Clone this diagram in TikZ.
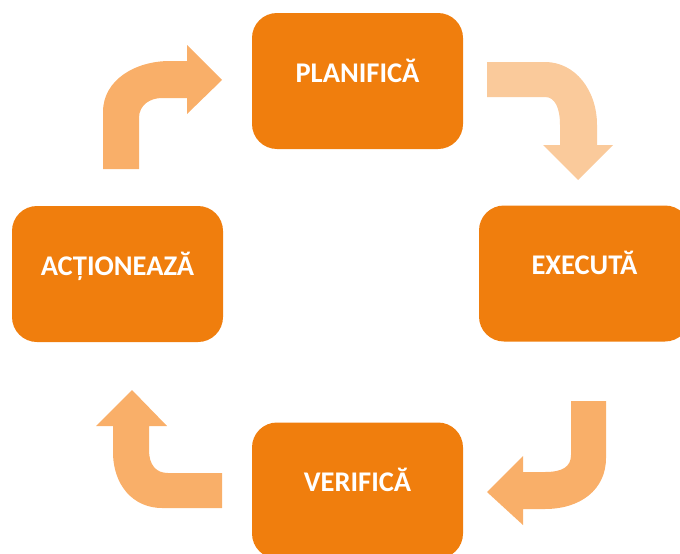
\documentclass[tikz,border=0pt]{standalone}
\usepackage{fontspec}
\setmainfont{Carlito}
\definecolor{boxorange}{HTML}{F07E0D}
\definecolor{arroworange}{HTML}{F9AF69}
\definecolor{arrowlight}{HTML}{FACA9B}
\tikzset{
	stagebox/.style={rounded corners=25pt,fill=boxorange,minimum width=211pt,minimum height=136pt,
		text=white,font=\fontsize{28.5}{34}\selectfont\bfseries,text height=18pt,text depth=16pt,inner sep=0pt},
	bentarrow/.style={fill=arroworange,draw=none}
}
\begin{document}
\begin{tikzpicture}[x=1pt,y=-1pt]
		\useasboundingbox (0,0) rectangle (680,554);
		\node[stagebox] (plan) at (357.5,81) {PLANIFICĂ};
		\node[stagebox] (exec) at (584.5,273.5) {EXECUTĂ};
		\node[stagebox] (verif) at (357.5,490.5) {VERIFICĂ};
		\node[stagebox] (act) at (117.5,274) {ACȚIONEAZĂ};
		\draw[bentarrow] (103,169) -- (103,112) .. controls (103,80) and (135,61) .. (170,61) -- (187,61) -- (187,45) -- (222,80) -- (187,114) -- (187,98) -- (162,98) .. controls (150,98) and (139,105) .. (139,118) -- (139,169) -- cycle;
		\draw[bentarrow,fill=arrowlight] (487,62) -- (545,62) .. controls (575,62) and (597,90) .. (597,125) -- (597,145) -- (613,145) -- (578,180) -- (543,145) -- (560,145) -- (560,125) .. controls (560,108) and (555,97) .. (545,97) -- (487,97) -- cycle;
		\draw[bentarrow] (571,401) -- (606,401) -- (606,458) .. controls (606,490) and (580,509) .. (545,509) -- (523,509) -- (523,525) -- (487,492) -- (523,456) -- (523,472) -- (545,472) .. controls (562,472) and (571,467) .. (571,455) -- cycle;
		\draw[bentarrow] (222,473) -- (222,508) -- (162,508) .. controls (133,508) and (113,485) .. (113,452) -- (113,426) -- (96,426) -- (132,390) -- (167,426) -- (149,426) -- (149,450) .. controls (149,465) and (156,473) .. (168,473) -- cycle;
	\end{tikzpicture}
\end{document}
